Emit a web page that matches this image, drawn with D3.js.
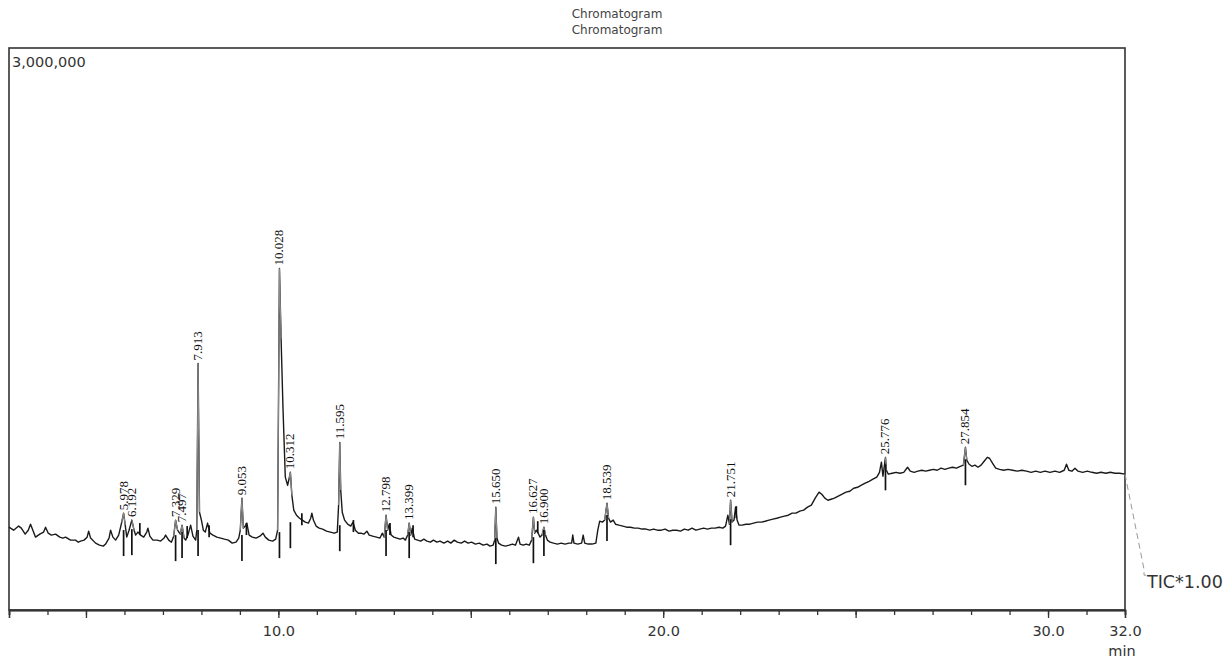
<!DOCTYPE html>
<html><head><meta charset="utf-8">
<script src="https://cdn.jsdelivr.net/npm/d3@7"></script>
<style>
html,body{margin:0;padding:0;background:#fff;}
</style></head>
<body><svg id="c" width="1229" height="659"></svg>
<script>
// ---- data ----
const titleLines = ["Chromatogram", "Chromatogram"];
const yMaxLabel = "3,000,000";
const yMax = 3000000;
const timeDomain = [3.0, 32.0];
const majorTicks = [5, 10, 15, 20, 25, 30];
const labelTicks = [10, 20, 30, 32];
const traceName = "TIC*1.00";

// trace: [time (min), intensity (thousand counts)]
const tic = [
[3.00,442],[3.12,426],[3.25,448],[3.32,437],[3.42,405],[3.50,426],[3.56,458],[3.63,421],[3.69,389],[3.80,405],
[3.90,416],[3.95,442],[4.02,410],[4.10,400],[4.21,405],[4.32,389],[4.40,384],[4.47,389],[4.60,373],[4.73,373],
[4.80,362],[4.86,368],[4.95,373],[5.03,389],[5.07,421],[5.12,384],[5.25,357],[5.35,346],[5.45,341],[5.51,352],
[5.60,384],[5.64,426],[5.70,389],[5.77,373],[5.85,400],[5.93,469],[5.978,517],[6.02,453],[6.06,389],[6.12,426],
[6.192,480],[6.25,426],[6.29,400],[6.35,416],[6.42,400],[6.50,389],[6.58,416],[6.61,437],[6.66,394],[6.74,373],
[6.85,373],[6.94,368],[7.03,384],[7.07,400],[7.15,373],[7.22,362],[7.28,394],[7.329,480],[7.38,426],[7.45,405],
[7.497,453],[7.55,384],[7.59,373],[7.65,400],[7.72,453],[7.78,394],[7.85,373],[7.88,426],[7.913,1316],[7.95,522],
[8.00,480],[8.05,426],[8.10,416],[8.16,464],[8.22,410],[8.30,400],[8.40,389],[8.50,384],[8.60,378],[8.70,373],
[8.80,357],[8.90,362],[8.97,384],[9.01,426],[9.053,597],[9.09,437],[9.14,448],[9.18,464],[9.24,400],[9.32,389],
[9.42,384],[9.52,394],[9.60,410],[9.66,389],[9.75,373],[9.85,368],[9.93,378],[9.98,426],[10.028,1823],[10.07,1450],
[10.12,1076],[10.18,709],[10.24,666],[10.28,703],[10.312,735],[10.35,613],[10.40,533],[10.47,506],[10.55,490],[10.62,480],
[10.70,469],[10.78,464],[10.84,490],[10.87,517],[10.91,480],[10.98,448],[11.06,437],[11.15,432],[11.25,421],[11.35,416],
[11.45,410],[11.53,416],[11.565,560],[11.595,895],[11.62,640],[11.66,522],[11.72,480],[11.80,458],[11.88,448],[11.94,469],
[12.00,426],[12.08,410],[12.15,410],[12.22,405],[12.30,421],[12.36,400],[12.45,394],[12.55,389],[12.64,384],[12.70,410],
[12.75,389],[12.798,506],[12.84,426],[12.88,458],[12.93,400],[13.00,389],[13.08,384],[13.16,378],[13.24,384],[13.30,373],
[13.36,400],[13.399,464],[13.44,400],[13.48,437],[13.54,378],[13.62,373],[13.70,368],[13.78,378],[13.86,368],[13.95,362],
[14.03,373],[14.12,362],[14.20,368],[14.30,357],[14.40,368],[14.48,357],[14.57,373],[14.65,362],[14.75,357],[14.84,368],
[14.93,357],[15.02,362],[15.12,352],[15.22,357],[15.32,346],[15.42,352],[15.50,341],[15.58,346],[15.62,373],[15.650,549],
[15.68,384],[15.72,357],[15.80,346],[15.90,341],[16.00,346],[16.08,352],[16.16,346],[16.24,389],[16.28,352],[16.36,346],
[16.44,352],[16.52,346],[16.58,373],[16.627,496],[16.66,410],[16.70,426],[16.75,410],[16.80,389],[16.85,400],[16.900,442],
[16.94,400],[16.99,373],[17.06,362],[17.15,357],[17.25,352],[17.35,357],[17.45,352],[17.55,357],[17.62,357],[17.65,400],
[17.68,357],[17.78,352],[17.88,357],[17.92,400],[17.96,357],[18.05,352],[18.15,352],[18.25,357],[18.30,426],[18.35,474],
[18.42,469],[18.48,480],[18.539,570],[18.58,490],[18.63,469],[18.70,480],[18.76,458],[18.85,453],[18.95,448],[19.05,442],
[19.15,442],[19.25,437],[19.35,437],[19.45,432],[19.55,432],[19.65,426],[19.75,432],[19.85,426],[19.95,426],[20.05,432],
[20.15,421],[20.25,426],[20.35,426],[20.45,421],[20.55,432],[20.65,426],[20.75,437],[20.85,426],[20.95,432],[21.05,437],
[21.15,432],[21.25,437],[21.35,437],[21.45,442],[21.55,437],[21.62,448],[21.68,506],[21.72,458],[21.751,586],[21.79,469],
[21.84,480],[21.88,549],[21.92,480],[21.97,453],[22.05,453],[22.15,458],[22.25,458],[22.35,464],[22.45,469],[22.55,469],
[22.65,474],[22.75,480],[22.85,485],[22.95,490],[23.05,496],[23.15,501],[23.25,506],[23.35,517],[23.45,517],[23.55,528],
[23.65,533],[23.75,549],[23.85,560],[23.95,597],[24.05,629],[24.12,618],[24.20,597],[24.28,586],[24.36,591],[24.45,597],
[24.55,608],[24.65,618],[24.75,629],[24.85,634],[24.95,650],[25.05,655],[25.15,666],[25.25,677],[25.35,687],[25.45,698],
[25.55,709],[25.62,735],[25.67,789],[25.71,714],[25.776,815],[25.80,746],[25.85,725],[25.95,730],[26.05,735],[26.15,730],
[26.25,735],[26.35,762],[26.42,741],[26.52,735],[26.62,741],[26.72,746],[26.82,741],[26.92,746],[27.02,751],[27.12,746],
[27.22,757],[27.32,751],[27.42,757],[27.52,762],[27.62,757],[27.72,767],[27.80,773],[27.854,869],[27.89,799],[27.95,778],
[28.02,767],[28.10,773],[28.18,762],[28.26,773],[28.34,794],[28.42,815],[28.48,810],[28.56,783],[28.64,757],[28.74,751],
[28.85,746],[28.96,751],[29.08,746],[29.20,741],[29.32,746],[29.44,741],[29.56,735],[29.68,741],[29.80,735],[29.92,741],
[30.05,735],[30.18,741],[30.30,735],[30.42,746],[30.48,778],[30.54,746],[30.62,741],[30.70,757],[30.78,741],[30.90,735],
[31.02,741],[31.14,735],[31.26,730],[31.38,735],[31.50,730],[31.62,735],[31.74,730],[31.86,730],[32.00,725]
];

const peakTimes  = [5.978, 6.192, 7.329, 7.497, 7.913, 9.053, 10.028, 10.312, 11.595, 12.798, 13.399, 15.650, 16.627, 16.900, 18.539, 21.751, 25.776, 27.854];
const peakLabels = ["5.978","6.192","7.329","7.497","7.913","9.053","10.028","10.312","11.595","12.798","13.399","15.650","16.627","16.900","18.539","21.751","25.776","27.854"];
const peakBase   = [384, 389, 357, 373, 384, 357, 373, 426, 410, 384, 373, 341, 346, 384, 464, 442, 735, 762]; // thousand counts
const endTimes   = [6.40, 7.63, 8.20, 9.17, 10.61, 11.95, 12.90, 13.50, 16.74, 21.90];
const endBase    = [400, 384, 389, 400, 453, 416, 400, 389, 410, 490];

// ---- drawing ----
const W = 1229, H = 659;
const m = {left: 9, right: 104, top: 48, bottom: 49};
const SANS = "DejaVu Sans, Verdana, sans-serif";
const SERIF = "Liberation Serif, Times New Roman, serif";
const svg = d3.select("#c");
const x = d3.scaleLinear().domain(timeDomain).range([m.left, W - m.right]);
const y = d3.scaleLinear().domain([0, yMax]).range([H - m.bottom, m.top]);
const K = 1000;

// titles
svg.selectAll("text.title").data(titleLines).join("text")
  .attr("class","title")
  .attr("x", 617).attr("y", (d,i) => 18 + i*16)
  .attr("text-anchor","middle").attr("font-family", SANS).attr("font-size", 12).attr("fill","#444")
  .text(d => d);

// frame
svg.append("rect").attr("x", m.left).attr("y", m.top)
  .attr("width", W - m.left - m.right).attr("height", H - m.top - m.bottom)
  .attr("fill","none").attr("stroke","#333").attr("stroke-width",1.6);

// y max label
svg.append("text").attr("x", m.left + 3).attr("y", m.top + 19)
  .attr("font-family", SANS).attr("font-size", 14.5).attr("fill","#333").text(yMaxLabel);

// x axis: minor ticks, major ticks, labels
const axisY = H - m.bottom;
const gMinor = svg.append("g").attr("transform", `translate(0,${axisY})`)
  .call(d3.axisBottom(x).tickValues(d3.range(timeDomain[0], timeDomain[1] + 0.5, 1)).tickSize(5).tickFormat(""));
const gMajor = svg.append("g").attr("transform", `translate(0,${axisY})`)
  .call(d3.axisBottom(x).tickValues(majorTicks).tickSize(8).tickFormat(""));
const gLab = svg.append("g").attr("transform", `translate(0,${axisY})`)
  .call(d3.axisBottom(x).tickValues(labelTicks).tickSize(0).tickPadding(16).tickFormat(d3.format(".1f")));
[gMinor, gMajor, gLab].forEach(g => {
  g.select(".domain").attr("stroke","#333").attr("stroke-width",1.6);
  g.selectAll(".tick line").attr("stroke","#333").attr("stroke-width",1.3);
  g.selectAll("text").attr("font-family", SANS).attr("font-size",14.5).attr("fill","#333");
});
svg.append("text").attr("x", x(32) - 3).attr("y", H - 3).attr("text-anchor","middle")
  .attr("font-family", SANS).attr("font-size",14.5).attr("fill","#333").text("min");

// trace
const line = d3.line().x(d => x(d[0])).y(d => y(d[1]*K));
svg.append("path").datum(tic).attr("d", line)
  .attr("fill","none").attr("stroke","#1a1a1a").attr("stroke-width",1.4).attr("stroke-linejoin","round");

// peak windows drawn grey on top (integrated peak regions)
peakTimes.forEach(t => {
  const seg = tic.filter(d => d[0] >= t - 0.06 && d[0] <= t + 0.06);
  svg.append("path").datum(seg).attr("d", line)
    .attr("fill","none").attr("stroke","#8a8a8a").attr("stroke-width",1.1);
});

// peak markers
svg.selectAll("line.pk").data(peakTimes).join("line").attr("class","pk")
  .attr("x1", d => x(d)).attr("x2", d => x(d))
  .attr("y1", (d,i) => y(peakBase[i]*K) - 8).attr("y2", (d,i) => y(peakBase[i]*K) + 18)
  .attr("stroke","#111").attr("stroke-width",1.7);
svg.selectAll("line.end").data(endTimes).join("line").attr("class","end")
  .attr("x1", d => x(d)).attr("x2", d => x(d))
  .attr("y1", (d,i) => y(endBase[i]*K) - 12).attr("y2", (d,i) => y(endBase[i]*K))
  .attr("stroke","#111").attr("stroke-width",1.7);

// peak labels
const peakTop = t => d3.max(tic.filter(d => Math.abs(d[0]-t) < 0.02), d => d[1]);
svg.selectAll("text.pl").data(peakTimes).join("text").attr("class","pl")
  .attr("transform", (d) => `translate(${x(d)+4},${y(peakTop(d)*K) - 3}) rotate(-90)`)
  .attr("font-family", SERIF)
  .attr("font-size",13).attr("fill","#111")
  .text((d,i) => peakLabels[i]);

// trace label leader
const lx = x(tic[tic.length-1][0]), ly = y(tic[tic.length-1][1]*K);
svg.append("path").attr("d", `M${lx},${ly} L${lx+19},${ly+95} L${lx+19},${ly+101} L${lx+21},${ly+101}`)
  .attr("fill","none").attr("stroke","#999").attr("stroke-dasharray","6,4").attr("stroke-width",1);
svg.append("text").attr("x", lx + 22).attr("y", ly + 114)
  .attr("font-family", SANS).attr("font-size",17.5).attr("fill","#333").text(traceName);
</script></body></html>
